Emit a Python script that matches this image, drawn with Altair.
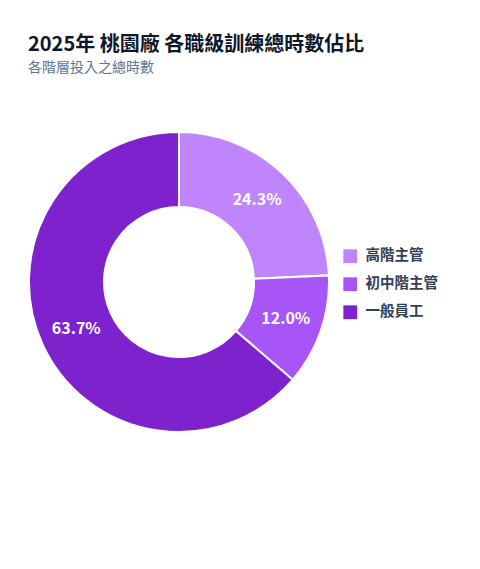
import altair as alt
import pandas as pd

categories = ["高階主管", "初中階主管", "一般員工"]
shares = [24.3, 12.0, 63.7]
labels = ["24.3%", "12.0%", "63.7%"]
colors = ["#c084fc", "#a855f7", "#7e22ce"]

df = pd.DataFrame({
    "level": categories,
    "share": shares,
    "label": labels,
    "idx": list(range(len(categories))),
})

FONT = "Noto Sans CJK TC"

base = alt.Chart(df).encode(
    theta=alt.Theta("share:Q", stack=True),
    order=alt.Order("idx:O"),
    x=alt.value(151),
    y=alt.value(150),
)

arcs = base.mark_arc(innerRadius=75, outerRadius=150, stroke="white", strokeWidth=2).encode(
    color=alt.Color(
        "level:N",
        scale=alt.Scale(domain=categories, range=colors),
        sort=categories,
        legend=alt.Legend(
            title=None,
            orient="none",
            legendX=315,
            legendY=117,
            symbolType="square",
            symbolSize=190,
            symbolStrokeWidth=0,
            labelFont=FONT,
            labelFontSize=14.5,
            labelFontWeight="bold",
            labelColor="#334155",
            rowPadding=12,
            labelOffset=8,
        ),
    )
)

texts = base.mark_text(radius=113, font=FONT, fontSize=16, fontWeight="bold", color="white").encode(
    text="label:N"
)

chart = (arcs + texts).properties(
    width=302,
    height=300,
    background="white",
    autosize=alt.AutoSizeParams(type="none"),
    padding={"left": 20, "top": 124, "right": 140, "bottom": 100},
    title=alt.TitleParams(
        text="2025年 桃園廠 各職級訓練總時數佔比",
        subtitle="各階層投入之總時數",
        anchor="start",
        dx=3,
        font=FONT,
        fontSize=20,
        fontWeight="bold",
        color="#0f172a",
        subtitleFont=FONT,
        subtitleFontSize=14,
        subtitleColor="#64748b",
        subtitlePadding=6,
        offset=53,
    ),
).configure_view(stroke=None, strokeWidth=0)

chart.save("out.html", embed_options={"renderer": "svg", "actions": False})
